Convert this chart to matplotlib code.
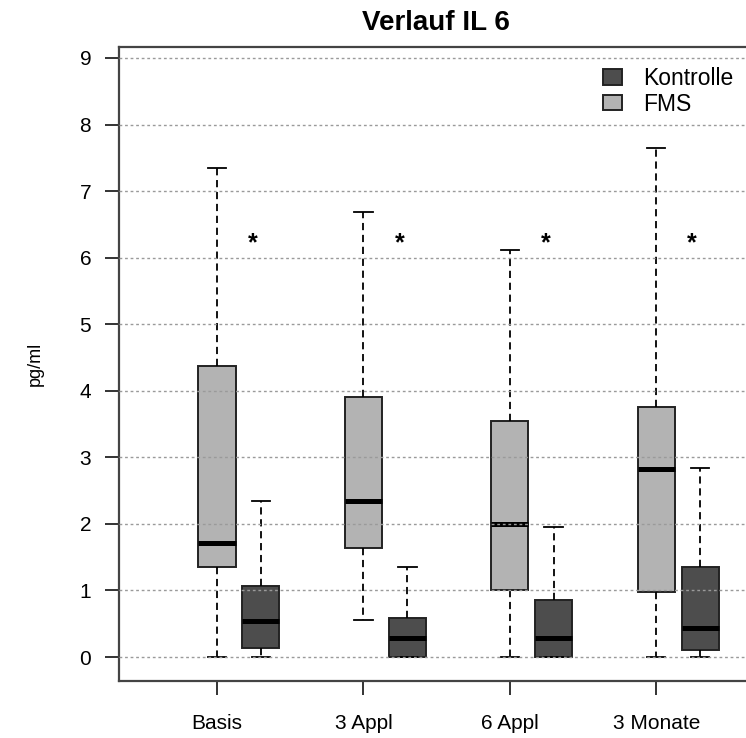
import matplotlib
matplotlib.use("Agg")
import matplotlib.pyplot as plt
from matplotlib.patches import Patch

plt.rcParams['font.family'] = ['Liberation Sans', 'DejaVu Sans']

categories = ["Basis", "3 Appl", "6 Appl", "3 Monate"]
series_names = ["Kontrolle", "FMS"]

fms_lo = [0.00, 0.56, 0.00, 0.00]
fms_q1 = [1.35, 1.64, 1.00, 0.98]
fms_med = [1.72, 2.35, 2.00, 2.82]
fms_q3 = [4.37, 3.91, 3.54, 3.76]
fms_hi = [7.35, 6.68, 6.11, 7.65]

kon_lo = [0.00, 0.00, 0.00, 0.00]
kon_q1 = [0.13, 0.00, 0.00, 0.10]
kon_med = [0.54, 0.29, 0.29, 0.43]
kon_q3 = [1.06, 0.59, 0.85, 1.35]
kon_hi = [2.35, 1.35, 1.95, 2.84]

star_y = [6.22, 6.22, 6.22, 6.22]
yticks = [0, 1, 2, 3, 4, 5, 6, 7, 8, 9]

W, H = 746, 738
fig = plt.figure(figsize=(W / 100, H / 100), dpi=100)
left_px, right_px, top_px, bot_px = 119, 752, 47, 681
ax = fig.add_axes([left_px / W, 1 - bot_px / H, (right_px - left_px) / W, (bot_px - top_px) / H])

fms_col = "#b3b3b3"
kon_col = "#4d4d4d"
pos_fms = [1 + i for i in range(len(categories))]
pos_kon = [p + 0.30 for p in pos_fms]
bw = 0.253

def stats(lo, q1, med, q3, hi):
    return [dict(whislo=a, q1=b, med=c, q3=d, whishi=e, fliers=[])
            for a, b, c, d, e in zip(lo, q1, med, q3, hi)]

common = dict(widths=bw, patch_artist=True, showfliers=False, manage_ticks=False,
              whiskerprops=dict(color="black", lw=1.3, linestyle=(0, (4, 2.6))),
              capprops=dict(color="black", lw=1.3),
              medianprops=dict(color="black", lw=3.6, solid_capstyle="butt"),
              capwidths=bw / 2)
b1 = ax.bxp(stats(fms_lo, fms_q1, fms_med, fms_q3, fms_hi), positions=pos_fms,
            boxprops=dict(facecolor=fms_col, edgecolor="#222222", lw=1.4), **common)
b2 = ax.bxp(stats(kon_lo, kon_q1, kon_med, kon_q3, kon_hi), positions=pos_kon,
            boxprops=dict(facecolor=kon_col, edgecolor="#222222", lw=1.4), **common)

for y in yticks:
    ax.axhline(y, color="#9a9a9a", lw=1.0, linestyle=(0, (2, 2)), zorder=5)

for p, y in zip(pos_fms, star_y):
    ax.text(p + 0.246, y, "*", ha="center", va="center", fontsize=18, fontweight="bold")

ax.set_xlim(1 + (left_px - 217) / 146.4, 1 + (right_px - 217) / 146.4)
ax.set_ylim(-0.36, 9.165)
ax.set_yticks(yticks)
ax.set_yticklabels([str(v) for v in yticks])
ax.set_xticks(pos_fms)
ax.set_xticklabels(categories)
ax.tick_params(axis="y", length=10, width=1.4, pad=10, labelsize=15, color="#333333")
ax.tick_params(axis="x", length=10, width=1.4, pad=14, labelsize=15, color="#333333")
for s in ["left", "bottom", "top", "right"]:
    ax.spines[s].set_color("#444444")
    ax.spines[s].set_linewidth(1.6)

ax.set_ylabel("pg/ml", fontsize=13, labelpad=26)
ax.set_title("Verlauf IL 6", fontsize=20, fontweight="bold", pad=12)

handles = [Patch(facecolor=kon_col, edgecolor="#222222", lw=1.4),
           Patch(facecolor=fms_col, edgecolor="#222222", lw=1.4)]
ax.legend(handles, series_names, loc="upper left", bbox_to_anchor=(603 / W, 1 - 67 / H),
          bbox_transform=fig.transFigure, frameon=False, fontsize=16.5,
          handlelength=0.82, handleheight=0.64, handletextpad=0.95, labelspacing=0.12,
          borderaxespad=0, borderpad=0)

fig.savefig("out.png", dpi=100)
